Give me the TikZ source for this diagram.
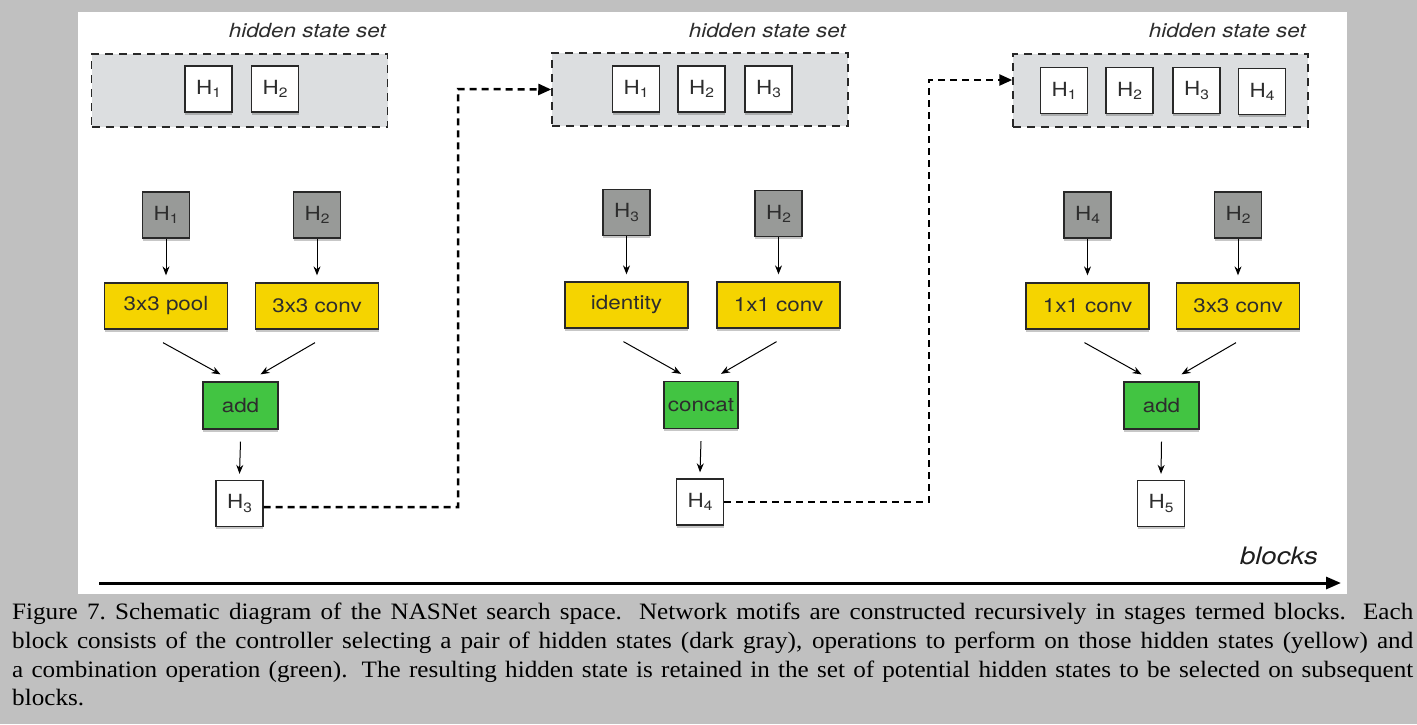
\documentclass[tikz,border=0pt]{standalone}
\usepackage{fontspec}
\setmainfont{TeX Gyre Heros}
\newfontfamily\wfont{TeX Gyre Heros}[FakeStretch=1.15]
\newfontfamily\capfont{Liberation Serif}[FakeStretch=1.07]
\usetikzlibrary{arrows.meta,shadows}
\definecolor{bggray}{RGB}{192,192,192}
\definecolor{setfill}{RGB}{220,222,224}
\definecolor{hgray}{RGB}{152,154,152}
\definecolor{opyellow}{RGB}{245,212,0}
\definecolor{opgreen}{RGB}{66,196,66}
\definecolor{txt}{RGB}{45,45,45}
\definecolor{edge}{RGB}{40,40,40}
\newcommand{\hsub}[1]{H\raisebox{-0.3ex}{\fontsize{13.5}{14}\selectfont #1}}
\begin{document}
\begin{tikzpicture}[x=1pt,y=-1pt,
  box/.style={draw=edge, line width=1.3pt, text=txt, inner sep=0pt,
    font=\wfont\fontsize{19.5}{22}\selectfont,
    drop shadow={shadow xshift=0pt, shadow yshift=-2.5pt, opacity=0.22, fill=black}},
  hbox/.style={box, fill=white, minimum width=47pt, minimum height=46pt},
  gbox/.style={box, fill=hgray, minimum width=47pt, minimum height=46pt},
  ybox/.style={box, fill=opyellow, minimum width=123pt, minimum height=46pt},
  grbox/.style={box, fill=opgreen, minimum width=75pt, minimum height=47pt},
  setbox/.style={draw=edge, dash pattern=on 8pt off 6pt, line width=1.5pt, fill=setfill,
    minimum width=296pt, minimum height=73pt, inner sep=0pt},
  setlabel/.style={anchor=base east, inner sep=0pt, text=txt, font=\wfont\itshape\fontsize{19.5}{21}\selectfont},
  arr/.style={-{Stealth[length=9pt,width=7pt]}, line width=1pt, draw=black},
  darr/.style={-{Triangle[length=13pt,width=11pt]}, line width=2.5pt, dash pattern=on 7pt off 5pt, draw=black},
  axis/.style={-{Triangle[length=15pt,width=12pt]}, line width=3pt, draw=black}
]
% background
\fill[bggray] (0,0) rectangle (1417,724);
\fill[white] (78,12) rectangle (1347,594);

% hidden state sets
\node[setbox] (set1) at (239.5,90.5) {};
\node[setbox] (set2) at (700,89.5) {};
\node[setbox, minimum width=295pt] (set3) at (1160.5,90.5) {};
\node[setlabel] (lab1) at (386,37) {hidden state set};
\node[setlabel] (lab2) at (846,37) {hidden state set};
\node[setlabel] (lab3) at (1306,37) {hidden state set};

\node[hbox] (s1h1) at (208.5,89) {\hsub{1}};
\node[hbox] (s1h2) at (275,89) {\hsub{2}};
\node[hbox] (s2h1) at (636,89) {\hsub{1}};
\node[hbox] (s2h2) at (701.5,89) {\hsub{2}};
\node[hbox] (s2h3) at (768.5,89) {\hsub{3}};
\node[hbox] (s3h1) at (1064,90.5) {\hsub{1}};
\node[hbox] (s3h2) at (1129.5,90.5) {\hsub{2}};
\node[hbox] (s3h3) at (1196.5,90.5) {\hsub{3}};
\node[hbox] (s3h4) at (1262,91.5) {\hsub{4}};

% block 1
\node[gbox] (g11) at (166,215) {\hsub{1}};
\node[gbox] (g12) at (317,215) {\hsub{2}};
\node[ybox] (y11) at (166,306) {3x3 pool};
\node[ybox] (y12) at (317,306) {3x3 conv};
\node[grbox] (a1) at (240.5,405.5) {add};
\node[hbox] (h3) at (239.5,503.5) {\hsub{3}};

% block 2
\node[gbox] (g21) at (626.5,212.5) {\hsub{3}};
\node[gbox] (g22) at (778.5,213.5) {\hsub{2}};
\node[ybox] (y21) at (626.5,305) {identity};
\node[ybox] (y22) at (778.5,305) {1x1 conv};
\node[grbox, minimum width=74pt] (c2) at (701,405) {concat};
\node[hbox] (h4) at (700,502) {\hsub{4}};

% block 3
\node[gbox] (g31) at (1087.5,215) {\hsub{4}};
\node[gbox] (g32) at (1238,215) {\hsub{2}};
\node[ybox] (y31) at (1087.5,306) {1x1 conv};
\node[ybox] (y32) at (1238,306) {3x3 conv};
\node[grbox] (a3) at (1161.5,405.5) {add};
\node[hbox] (h5) at (1161,503.5) {\hsub{5}};

% arrows
\foreach \g/\y/\o/\c/\r/\h in {g11/y11/a1/y12/g12/h3, g21/y21/c2/y22/g22/h4, g31/y31/a3/y32/g32/h5}{
  \draw[arr] (\g.south) -- ([yshift=7pt]\y.north);
  \draw[arr] (\r.south) -- ([yshift=7pt]\c.north);
  \draw[arr] ([xshift=-3pt,yshift=-13pt]\y.south) -- ([xshift=-20pt,yshift=7pt]\o.north);
  \draw[arr] ([xshift=-2pt,yshift=-13pt]\c.south) -- ([xshift=20pt,yshift=7pt]\o.north);
  \draw[arr] ([yshift=-12pt]\o.south) -- ([yshift=6pt]\h.north);
}

% dashed links
\coordinate (k1) at (458,89);
\draw[darr] ([yshift=-3.5pt]h3.east) -| (k1) -- (set2.west);
\coordinate (k2) at (929,80);
\draw[darr] (h4.east) -| (k2) -- (k2 -| set3.west);

% axis
\coordinate (ax0) at (99,583);
\coordinate (ax1) at (1341,583);
\draw[axis] (ax0) -- (ax1);
\node[anchor=base east, inner sep=0pt, text={rgb,255:red,30;green,30;blue,30}, font=\wfont\itshape\fontsize{24}{26}\selectfont] (blk) at (1318,564) {blocks};

% caption
\node[anchor=north west, inner sep=0pt, text width=1401pt, align=justify,
  font=\capfont\fontsize{23.5}{28.7}\selectfont] (cap) at (12,603)
{Figure 7.\ Schematic diagram of the NASNet search space.  Network motifs are constructed recursively in stages termed blocks.  Each\linebreak
block consists of the controller selecting a pair of hidden states (dark gray), operations to perform on those hidden states (yellow) and\linebreak
a combination operation (green).  The resulting hidden state is retained in the set of potential hidden states to be selected on subsequent\linebreak
blocks.};
\end{tikzpicture}
\end{document}
